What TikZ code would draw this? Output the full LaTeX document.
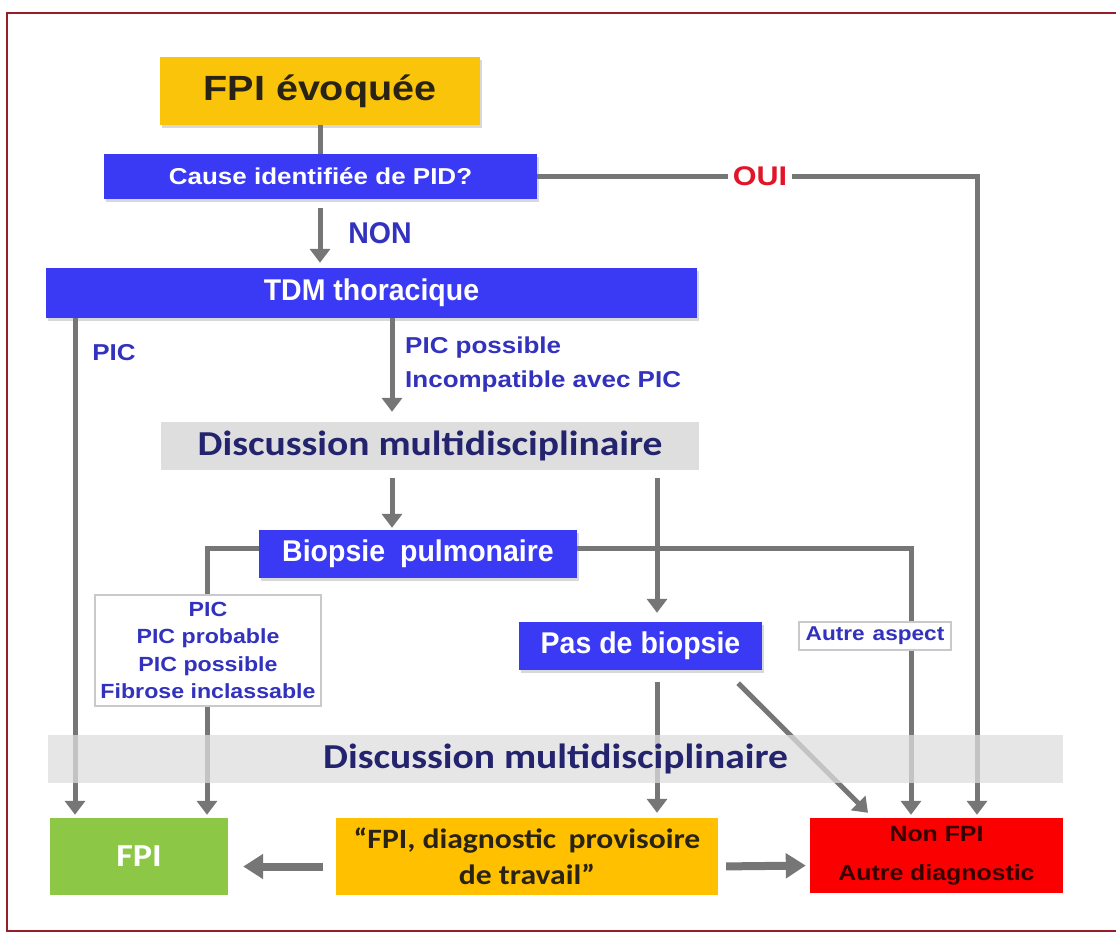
\documentclass[tikz,border=0pt]{standalone}
\usepackage{fontspec}
\setmainfont{Liberation Sans}[FakeStretch=1.13]
\newfontfamily\narrowf{Liberation Sans}[FakeStretch=0.95]
\newfontfamily\carlf{Carlito}[FakeStretch=1.13]
\usetikzlibrary{arrows.meta,shadows}
\definecolor{boxblue}{RGB}{58,58,245}
\definecolor{gold}{RGB}{250,196,10}
\definecolor{gold2}{RGB}{255,192,0}
\definecolor{fgreen}{RGB}{140,200,70}
\definecolor{fred}{RGB}{250,0,0}
\definecolor{band}{RGB}{222,222,222}
\definecolor{arrgrey}{RGB}{118,118,118}
\definecolor{lblue}{RGB}{50,50,190}
\definecolor{navy}{RGB}{35,35,110}
\definecolor{ouired}{RGB}{225,20,40}
\definecolor{darktxt}{RGB}{40,35,20}
\definecolor{nontxt}{RGB}{55,0,0}
\definecolor{framec}{RGB}{150,30,40}
\definecolor{thin}{RGB}{200,200,205}
\newcommand{\fsz}[2]{\fontsize{#1}{#2}\selectfont}
\tikzset{
  bluebox/.style={fill=boxblue, text=white, inner sep=0pt,
    drop shadow={shadow xshift=2pt, shadow yshift=-3pt, opacity=0.3}},
  listbox/.style={fill=white, draw=thin, line width=1.2pt, inner sep=0pt},
  conn/.style={draw=arrgrey, line width=5pt},
  arr/.style={conn, -{Triangle[width=20pt,length=14pt]}},
  bigarr/.style={draw=arrgrey, line width=8pt, -{Triangle[width=24pt,length=20pt]}},
  lbl/.style={inner sep=0pt, text=lblue}
}
\begin{document}
\begin{tikzpicture}[x=1pt,y=-1pt]
\useasboundingbox (0,0) rectangle (1116,936);
\fill[white] (0,0) rectangle (1116,936);
\draw[framec, line width=2pt] (7,13) rectangle (1140,931);

% column coordinates
\coordinate (c75) at (75,0);
\coordinate (c207) at (207,0);
\coordinate (c320) at (320,0);
\coordinate (c392) at (392,0);
\coordinate (c657) at (657,0);
\coordinate (c911) at (911,0);
\coordinate (c977) at (977,0);

% nodes
\node[fill=gold, text=darktxt, minimum width=320pt, minimum height=68pt, inner sep=0pt,
  drop shadow={shadow xshift=2pt, shadow yshift=-3pt, opacity=0.3},
  font=\bfseries\fsz{35}{40}] (fpi0) at (320,91) {FPI évoquée};
\node[bluebox, minimum width=433pt, minimum height=45pt, font=\bfseries\fsz{23}{26}]
  (cause) at (320.5,176.5) {Cause identifiée de PID?};
\node[bluebox, minimum width=651pt, minimum height=50pt, font=\narrowf\bfseries\fsz{30}{34}]
  (tdm) at (371.5,293) {TDM thoracique};
\node[fill=band, text=navy, minimum width=538pt, minimum height=48pt, inner sep=0pt,
  font=\carlf\bfseries\fsz{35}{40}] (disc1) at (430,446) {Discussion multidisciplinaire};
\node[bluebox, minimum width=318pt, minimum height=48pt, font=\narrowf\bfseries\fsz{30}{34}]
  (biop) at (418,554) {Biopsie\hspace{0.5em}pulmonaire};
\node[listbox, text=lblue, minimum width=226pt, minimum height=111pt, align=center,
  font=\bfseries\fsz{20.5}{27.5}] (piclist) at (208,650.5)
  {PIC\\PIC probable\\PIC possible\\Fibrose inclassable};
\node[bluebox, minimum width=243pt, minimum height=48pt, font=\narrowf\bfseries\fsz{30}{34}]
  (pas) at (640.5,646) {Pas de biopsie};
\node[listbox, text=lblue, minimum width=152pt, minimum height=28pt,
  font=\bfseries\fsz{20}{24}] (autre) at (875,636) {Autre\hspace{0.4em}aspect};
\node[fill=fgreen, text=white, minimum width=178pt, minimum height=77pt, inner sep=0pt,
  font=\carlf\bfseries\fsz{32}{36}] (fpi) at (139,856.5) {FPI};
\node[fill=gold2, text=darktxt, minimum width=382pt, minimum height=77pt, inner sep=0pt,
  align=center, font=\carlf\bfseries\fsz{28}{36}] (fpiprov) at (527,856.5)
  {“FPI, diagnostic\hspace{0.45em}provisoire\\de travail”};
\node[fill=fred, text=nontxt, minimum width=253pt, minimum height=75pt, inner sep=0pt,
  align=center, font=\bfseries\fsz{22}{39}] (nonfpi) at (936.5,855.5)
  {Non FPI\\Autre diagnostic};

% labels
\node[lbl, font=\narrowf\bfseries\fsz{30}{34}] (non) at (380,233) {NON};
\node[lbl, font=\bfseries\fsz{23}{26}] (pic) at (114,353) {PIC};
\node[lbl, anchor=west, align=left, font=\bfseries\fsz{23}{34}] (picposs) at (405,365)
  {PIC possible\\Incompatible avec PIC};

% connectors
\draw[conn] (fpi0.south -| c320) -- (cause.north -| c320);
\draw[arr, shorten >=3pt] (cause.east) -| (nonfpi.north -| c977);
\node[fill=white, text=ouired, inner sep=5pt, font=\bfseries\fsz{27}{30}] (oui) at (760,176.5) {OUI};
\draw[arr, shorten <=9pt, shorten >=5pt] (cause.south -| c320) -- (tdm.north -| c320);
\draw[arr, shorten >=3pt] (tdm.south -| c75) -- (fpi.north -| c75);
\draw[arr, shorten >=10pt] (tdm.south -| c392) -- (disc1.north -| c392);
\draw[arr, shorten <=8pt, shorten >=2pt] (disc1.south -| c392) -- (biop.north -| c392);
\draw[arr, shorten <=8pt, shorten >=9pt] (disc1.south -| c657) -- (pas.north -| c657);
\draw[conn] ([yshift=6pt]biop.west) -| (piclist.north -| c207);
\draw[conn] ([yshift=6pt]biop.east) -| (autre.north -| c911);
\draw[arr, shorten >=3pt] (piclist.south -| c207) -- (fpi.north -| c207);
\draw[arr, shorten <=12pt, shorten >=5pt] (pas.south -| c657) -- (fpiprov.north -| c657);
\draw[arr] ([xshift=-24pt,yshift=-13pt]pas.south east) -- ([xshift=-68.5pt,yshift=5pt]nonfpi.north);
\draw[arr, shorten >=3pt] (autre.south -| c911) -- (nonfpi.north -| c911);
\draw[bigarr, shorten <=13pt, shorten >=15pt] ([yshift=-10pt]fpiprov.west) -- ([yshift=-10pt]fpi.east);
\draw[bigarr, shorten <=8pt, shorten >=4pt] ([yshift=-10pt]fpiprov.east) -- ([yshift=-10pt]nonfpi.west);

% second discussion band, drawn over the connectors
\node[fill=band, fill opacity=0.75, text opacity=1, text=navy, minimum width=1015pt,
  minimum height=48pt, inner sep=0pt, font=\carlf\bfseries\fsz{35}{40}]
  (disc2) at (555.5,759) {Discussion multidisciplinaire};
\end{tikzpicture}
\end{document}
